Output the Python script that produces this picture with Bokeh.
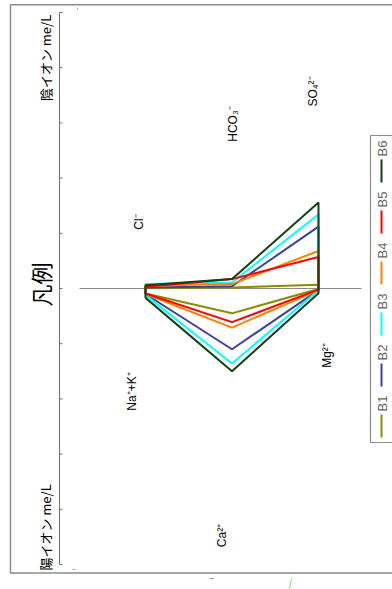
import math
from bokeh.plotting import figure
from bokeh.models import Range1d
from bokeh.core.properties import value
from bokeh.embed import file_html
from bokeh.resources import INLINE

# ---- data (me/L) ----
cation_names = ["Na⁺+K⁺", "Ca²⁺", "Mg²⁺"]
anion_names = ["Cl⁻", "HCO₃⁻", "SO₄²⁻"]
series = ["B1", "B2", "B3", "B4", "B5", "B6"]
cations_B1 = [0.09, 0.45, 0.01]
cations_B2 = [0.10, 1.10, 0.03]
cations_B3 = [0.12, 1.36, 0.03]
cations_B4 = [0.10, 0.71, 0.03]
cations_B5 = [0.09, 0.61, 0.02]
cations_B6 = [0.17, 1.50, 0.085]
anions_B1 = [0.01, 0.02, 0.07]
anions_B2 = [0.02, 0.04, 1.12]
anions_B3 = [0.08, 0.11, 1.34]
anions_B4 = [0.05, 0.08, 0.68]
anions_B5 = [0.03, 0.17, 0.57]
anions_B6 = [0.06, 0.17, 1.56]
colors = ["#8c8c00", "#3f3f9c", "#00ffff", "#ff8000", "#ff0000", "#173f17"]
y_ticks = [-5, -4, -3, -2, -1, 0, 1, 2, 3, 4, 5]

cations = [cations_B1, cations_B2, cations_B3, cations_B4, cations_B5, cations_B6]
anions = [anions_B1, anions_B2, anions_B3, anions_B4, anions_B5, anions_B6]

# ---- layout helpers (image pixel -> data) ----
W, H = 392, 589
OX, OY = 0, 0          # canvas origin in image pixels
X0, XS = 145.0, 86.5
Y0, YS = 288.0, 55.2
def dx(px):
    return (px - X0) / XS
def dy(py):
    return (Y0 - py) / YS
def sx(npx):
    return npx / XS

p = figure(width=W, height=H, output_backend="svg", toolbar_location=None,
           x_range=Range1d(dx(OX), dx(OX + W)), y_range=Range1d(dy(OY + H), dy(OY)),
           x_axis_location=None, y_axis_location=None, min_border=0)
p.outline_line_color = None
p.xgrid.visible = False
p.ygrid.visible = False
p.background_fill_color = "white"
p.border_fill_color = "white"

ROT = math.pi / 2
LAT = value("Liberation Sans")
JP = value("Noto Sans CJK JP")

# outer frame
p.quad(left=[dx(10)], right=[dx(410)], top=[dy(4.3)], bottom=[dy(572.5)],
       fill_color=None, line_color="#8c8c8c", line_width=1.5)

# value axis (vertical) with ticks
ax_x = dx(59)
p.segment(x0=[ax_x], x1=[ax_x], y0=[min(y_ticks)], y1=[max(y_ticks)],
          line_color="#707070", line_width=1)
p.segment(x0=[ax_x] * len(y_ticks), x1=[ax_x + sx(3)] * len(y_ticks),
          y0=y_ticks, y1=y_ticks, line_color="#707070", line_width=1)

# zero line
p.segment(x0=[dx(79)], x1=[dx(361)], y0=[0], y1=[0], line_color="#8a8a8a", line_width=1.2)

# hexadiagram polygons
pos = [0, 1, 2]
for name, c, a, col in zip(series, cations, anions, colors):
    xs = [pos[0], pos[1], pos[2], pos[2], pos[1], pos[0], pos[0]]
    ys = [-c[0], -c[1], -c[2], a[2], a[1], a[0], -c[0]]
    p.line(xs, ys, line_color=col, line_width=2)

# ion labels
ion_lab_x = [dx(131), dx(221), dx(326), dx(138), dx(232.5), dx(312)]
ion_lab_y = [dy(391), dy(535), dy(355), dy(221.5), dy(123.5), dy(91)]
p.text(x=ion_lab_x, y=ion_lab_y, text=cation_names + anion_names, angle=ROT,
       text_align="center", text_baseline="middle", text_font=LAT,
       text_font_size="12px", text_color="black")

# axis titles
p.text(x=[dx(45), dx(45)], y=[dy(56), dy(525.5)],
       text=["陰イオン  me/L", "陽イオン  me/L"], angle=ROT,
       text_align="center", text_baseline="middle", text_font=JP,
       text_font_size="13px", text_color="black")
p.text(x=[dx(39)], y=[dy(284)], text=["凡例"], angle=ROT,
       text_align="center", text_baseline="middle", text_font=JP,
       text_font_size="22px", text_color="black")

# legend (rotated)
p.quad(left=[dx(370)], right=[dx(410)], top=[dy(135)], bottom=[dy(442)],
       fill_color="white", line_color="#8c8c8c", line_width=1.2)
for i, (name, col) in enumerate(zip(series, colors)):
    cy = 403 - 51 * i
    p.segment(x0=[dx(381)], x1=[dx(381)], y0=[dy(cy + 11)], y1=[dy(cy + 34)],
              line_color=col, line_width=2)
    p.text(x=[dx(381.5)], y=[dy(cy)], text=[name], angle=ROT,
           text_align="center", text_baseline="middle", text_font=LAT,
           text_font_size="13px", text_color="#666666")

# small stray marks present in the source image
p.segment(x0=[dx(76.5), dx(209), dx(72)], x1=[dx(77.5), dx(213), dx(75)],
          y0=[dy(7), dy(578), dy(569)], y1=[dy(9), dy(578), dy(569)],
          line_color="#9a9a9a", line_width=1)
p.segment(x0=[dx(291)], x1=[dx(289)], y0=[dy(578)], y1=[dy(588)],
          line_color="#66ee66", line_width=1)

open("out.html", "w").write(file_html(p, INLINE))
